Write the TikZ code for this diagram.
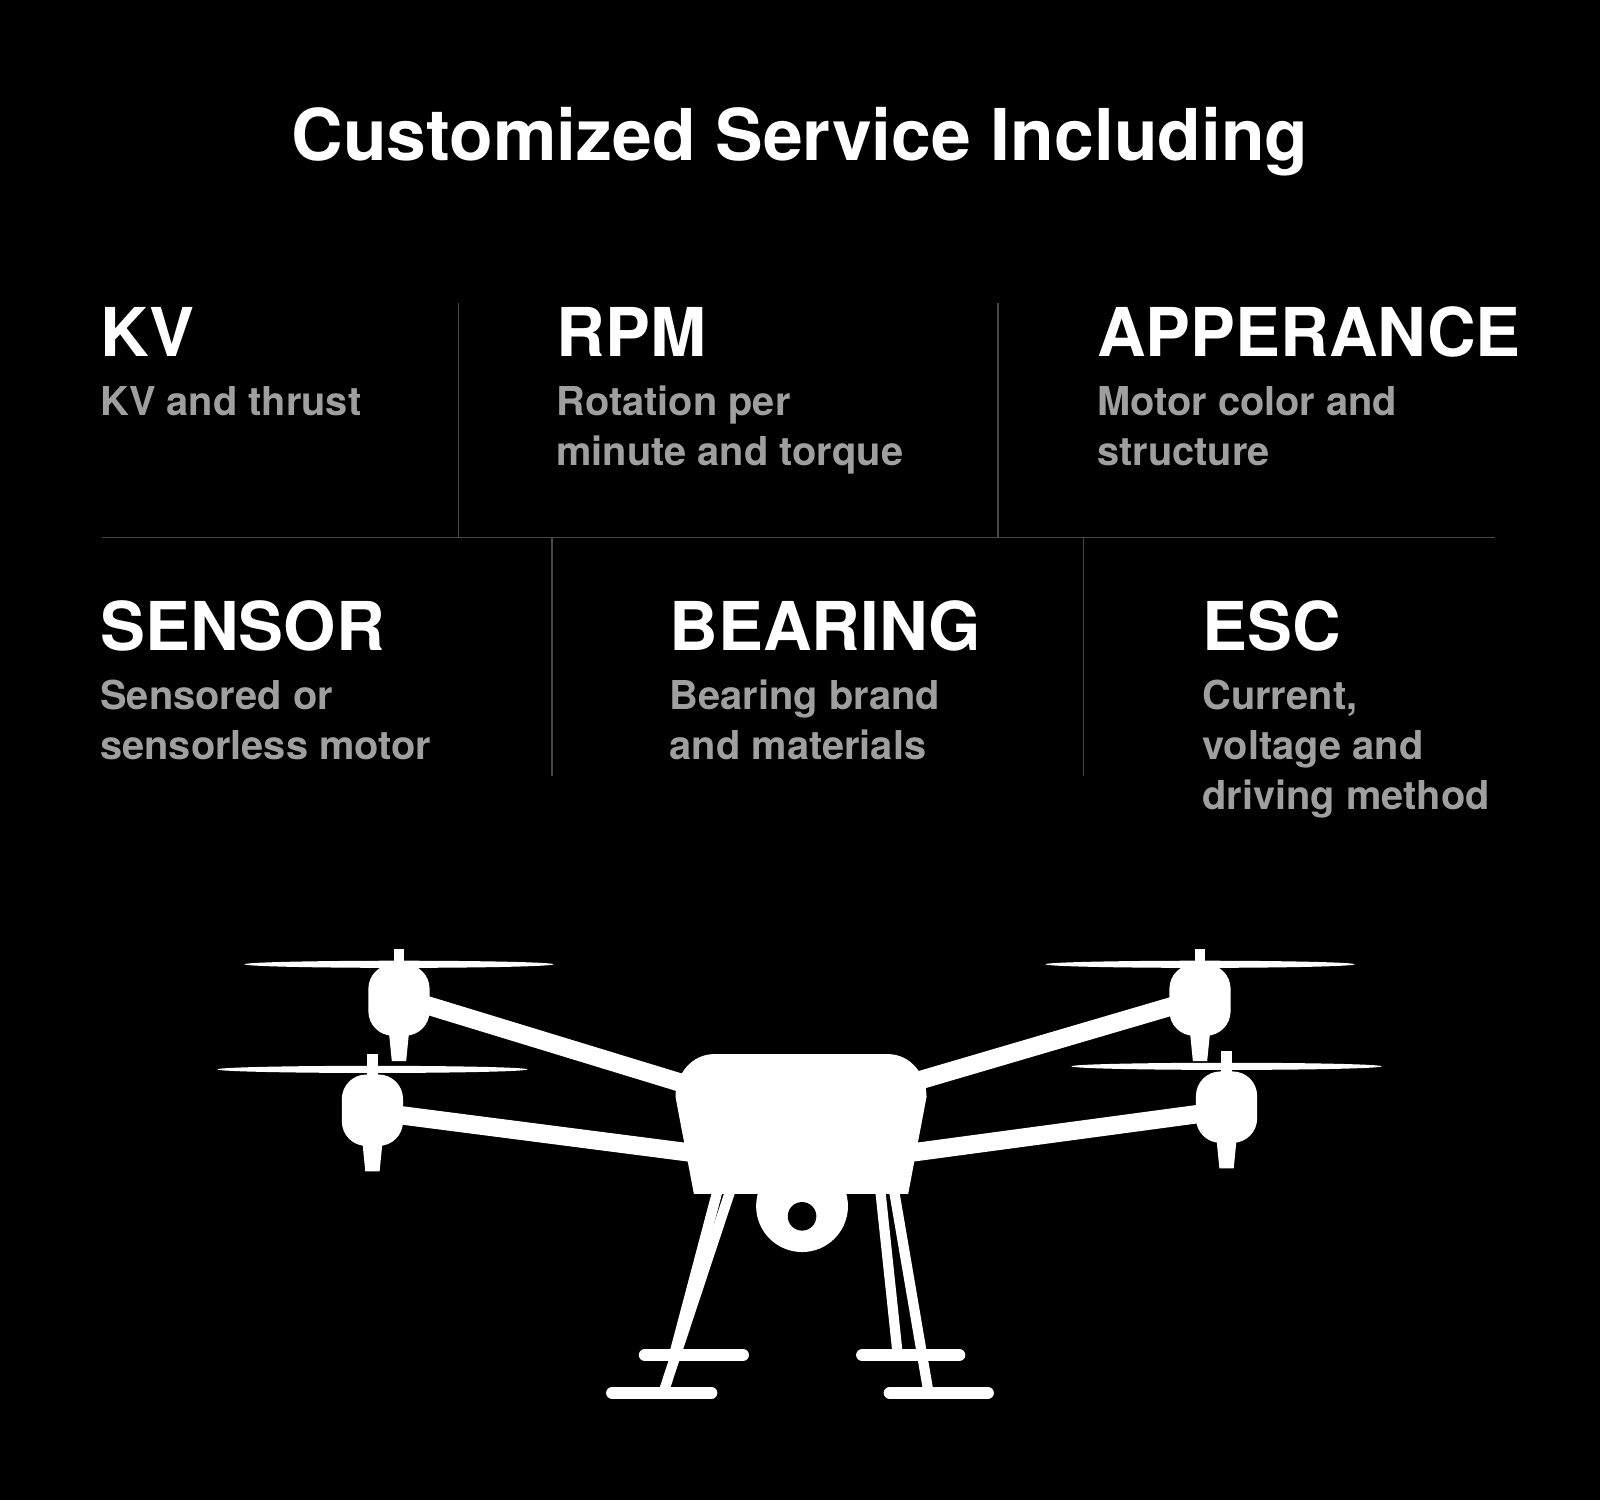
\documentclass[tikz,border=0pt]{standalone}
\usepackage{fontspec}
\setmainfont{TeX Gyre Heros}
\begin{document}
\begin{tikzpicture}[x=0.5pt,y=-0.5pt,
 head/.style={anchor=base west,font=\bfseries\fontsize{33}{36}\selectfont,text=white,inner sep=0},
 body/.style={anchor=north west,align=left,font=\bfseries\fontsize{19.5}{24.5}\selectfont,text=gray!75,inner sep=0},
 sep/.style={draw=white!28!black,line width=0.6pt},
 arm/.style={white,line width=9pt},
 leg/.style={white,line width=5pt},
 skid/.style={white,line width=6pt,line cap=round},
 prop/.style={fill=white}]
\fill[black] (0,0) rectangle (1568,1470);
\useasboundingbox (0,0) rectangle (1568,1470);
\node[anchor=base,font=\bfseries\fontsize{35}{40}\selectfont,text=white,inner sep=0] (title) at (784,157) {Customized Service Including};
% separators
\coordinate (h1) at (100,527); \coordinate (h2) at (1465,527);
\draw[sep] (h1) -- (h2);
\coordinate (v1a) at (449,297); \coordinate (v1b) at (449,527);
\coordinate (v2a) at (978,297); \coordinate (v2b) at (978,527);
\coordinate (v3a) at (541,527); \coordinate (v3b) at (541,760);
\coordinate (v4a) at (1062,527); \coordinate (v4b) at (1062,760);
\draw[sep] (v1a)--(v1b); \draw[sep] (v2a)--(v2b); \draw[sep] (v3a)--(v3b); \draw[sep] (v4a)--(v4b);
% texts
\node[head] (kv) at (98,349) {KV};
\node[body] (kvb) at (98,378) {KV and thrust};
\node[head] (rpm) at (545,349) {RPM};
\node[body] (rpmb) at (545,378) {Rotation per\\minute and torque};
\node[head] (app) at (1075,349) {APPERANCE};
\node[body] (appb) at (1075,378) {Motor color and\\structure};
\node[head] (sen) at (98,637) {SENSOR};
\node[body] (senb) at (98,666) {Sensored or\\sensorless motor};
\node[head] (bea) at (656,637) {BEARING};
\node[body] (beab) at (656,666) {Bearing brand\\and materials};
\node[head] (esc) at (1178,637) {ESC};
\node[body] (escb) at (1178,666) {Current,\\voltage and\\driving method};
% drone legs
\draw[leg] (705,1160) -- (660,1330);
\draw[leg] (718,1160) -- (650,1365);
\draw[leg] (862,1160) -- (880,1330);
\draw[leg] (875,1160) -- (910,1365);
\draw[skid] (632,1328) -- (728,1328);
\draw[skid] (600,1365) -- (697,1365);
\draw[skid] (845,1328) -- (940,1328);
\draw[skid] (872,1365) -- (968,1365);
% arms
\draw[arm] (395,978) -- (680,1065);
\draw[arm] (370,1090) -- (680,1130);
\draw[arm] (1176,978) -- (890,1062);
\draw[arm] (1202,1088) -- (890,1130);
% body
\fill[white] (700,1033) -- (870,1033) to[out=0,in=90] (908,1075) -- (890,1170) -- (680,1170) -- (662,1075) to[out=90,in=180] cycle;
\fill[white] (786,1182) circle (45);
\fill[black] (786,1192) circle (14);
% motors
\foreach \mx/\my/\px/\py/\pl/\pr in {391/980/391/945/240/543, 365/1088/365/1048/213/517, 1176/980/1176/945/1025/1328, 1202/1085/1202/1045/1050/1354}{
 \fill[white,rounded corners=12pt] (\mx-30,\my-35) rectangle (\mx+30,\my+35);
 \fill[white] (\mx-10,\my+30) -- (\mx+10,\my+30) -- (\mx+7,\my+60) -- (\mx-7,\my+60) -- cycle;
 \fill[white] (\px-5,\py-15) rectangle (\px+5,\my-30);
 \fill[prop] (\px,\py) ellipse ({(\pr-\pl)/2} and 3.5);
}
\end{tikzpicture}
\end{document}
